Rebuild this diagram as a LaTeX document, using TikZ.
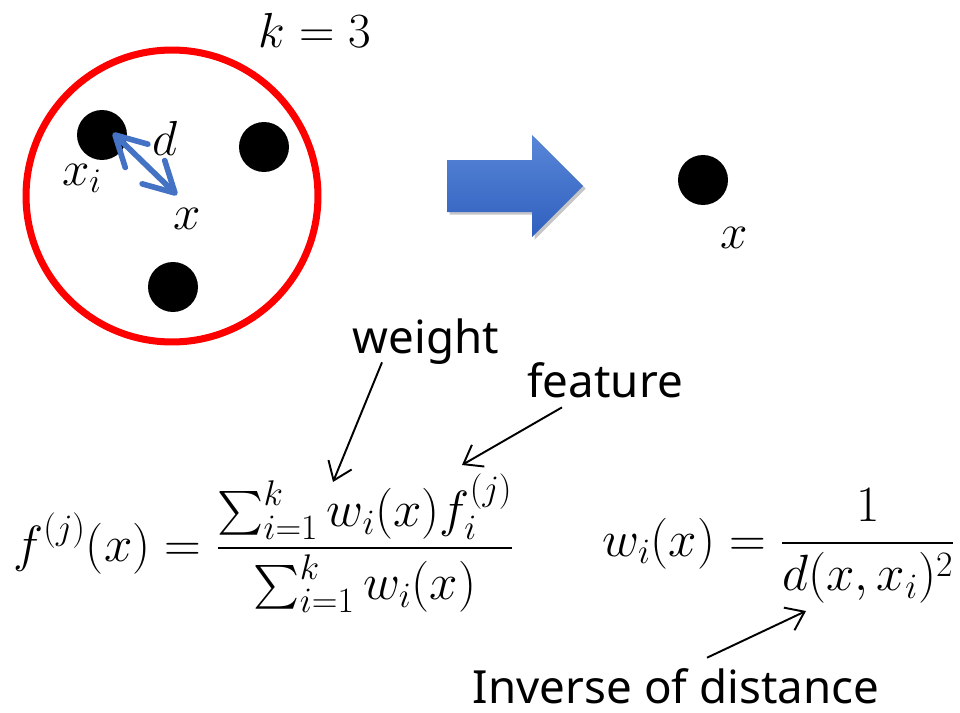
\RequirePackage{fix-cm}
\documentclass[tikz,border=0pt]{standalone}
\usepackage{amsmath}
\usepackage{fontspec}
\newfontfamily\labelfont{Noto Sans}
\usetikzlibrary{arrows.meta, shadows}
\definecolor{distblue}{HTML}{4472C4}
\definecolor{blkhi}{HTML}{5886D8}
\definecolor{blklo}{HTML}{2F60BE}
\tikzset{
  dot/.style={circle,fill=black,inner sep=0pt,minimum size=1cm},
  lbl/.style={inner sep=0pt,text depth=0pt,font=\labelfont\fontsize{26}{30}\selectfont},
  mth/.style={inner sep=0pt,font=\fontsize{28}{32}\selectfont},
  eqn/.style={inner sep=0pt,font=\fontsize{29}{33}\selectfont},
  ptr/.style={-{Straight Barb[length=3.4mm,width=5mm]},line width=1.1pt},
  dist/.style={{Straight Barb[round,length=6mm,width=6.5mm]}-{Straight Barb[round,length=6mm,width=6.5mm]},line width=3.2pt,draw=distblue}
}

\begin{document}
\begin{tikzpicture}[x=0.02cm,y=-0.02cm]
\useasboundingbox (0,0) rectangle (960,713);
% neighbourhood with k points
\node[circle,draw=red,line width=4pt,inner sep=0pt,minimum size=5.84cm] (nbhd) at (172,196) {};
\node[mth,anchor=base] (kval) at (315,48) {$k=3$};
\node[dot] (p1) at (102,135) {};
\node[dot] (p2) at (264,147) {};
\node[dot] (p3) at (173,287) {};
\coordinate (xi) at (113,133);
\coordinate (xq) at (177,195);
\draw[dist] (xi) -- (xq);
\node[mth,anchor=base] (lxi) at (82,185) {$x_i$};
\node[mth,anchor=base] (ld) at (165,155) {$d$};
\node[mth,anchor=base] (lx) at (187,229) {$x$};
% block arrow
\shade[top color=blkhi,bottom color=blklo,drop shadow={shadow xshift=1.5pt,shadow yshift=-1.5pt,opacity=.45}]
  (447,160) -- (532,160) -- (532,135) -- (583,186) -- (532,237) -- (532,212) -- (447,212) -- cycle;
\node[dot] (q) at (703,180) {};
\node[mth,anchor=base] (lq) at (734,248) {$x$};
% formulas
\node[eqn,anchor=base west] (fml) at (13,561)
  {$\displaystyle f^{(j)}(x)=\frac{\sum_{i=1}^{k} w_i(x)f_i^{(j)}}{\sum_{i=1}^{k} w_i(x)}$};
\node[eqn,anchor=base west] (wml) at (602,556)
  {$\displaystyle w_i(x)=\frac{1}{d(x,x_i)^2}$};
\coordinate (wto) at (333,482);
\coordinate (fto) at (462,465);
\coordinate (ito) at (806,611);
% labels
\node[lbl,anchor=base] (wlbl) at (426,353) {weight};
\node[lbl,anchor=base] (flbl) at (605,397) {feature};
\node[lbl,anchor=base] (ilbl) at (676,703) {Inverse of distance};
\draw[ptr] (wlbl.south) ++(-44,9) -- (wto);
\draw[ptr] (flbl.south) ++(-43,10) -- (fto);
\draw[ptr] (ilbl.north) ++(31,-10) -- (ito);
\end{tikzpicture}
\end{document}
